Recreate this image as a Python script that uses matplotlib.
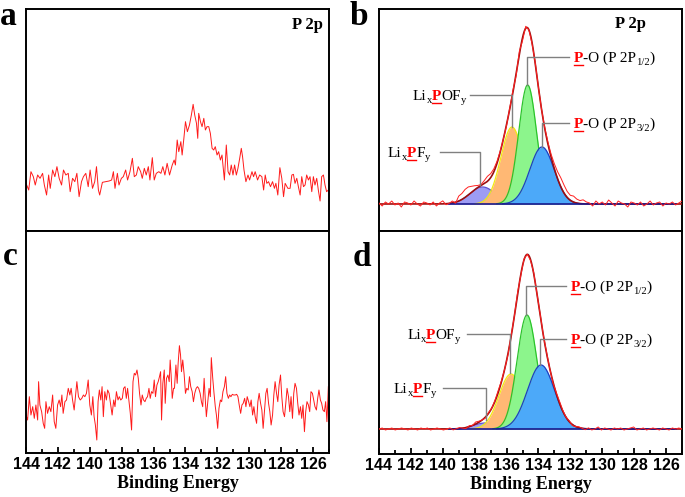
import numpy as np
import matplotlib
matplotlib.use('Agg')
from matplotlib import pyplot as plt
from matplotlib import transforms as mtransforms
from matplotlib.lines import Line2D
from matplotlib.ticker import MultipleLocator

# Raw P 2p spectra (binding energy in eV, intensity in a.u.)
spectrum_a = [
    (144.00, 65), (143.83, 45), (143.69, 100), (143.54, 85), (143.42, 60), (143.27, 90), (143.12, 80), (142.96, 95),
    (142.85, 60), (142.71, 30), (142.58, 90), (142.48, 50), (142.33, 105), (142.19, 85), (142.06, 115), (141.92, 80),
    (141.77, 60), (141.65, 105), (141.50, 90), (141.35, 95), (141.23, 40), (141.08, 80), (140.94, 70), (140.81, 95),
    (140.67, 25), (140.52, 70), (140.40, 85), (140.25, 95), (140.10, 55), (139.98, 105), (139.83, 50), (139.69, 70),
    (139.58, 115), (139.46, 45), (139.38, 30), (139.21, 68), (139.00, 70), (138.79, 72), (138.63, 75), (138.52, 100),
    (138.42, 50), (138.27, 95), (138.17, 60), (138.02, 80), (137.90, 85), (137.75, 105), (137.63, 75), (137.48, 100),
    (137.33, 140), (137.21, 85), (137.08, 90), (136.96, 115), (136.81, 100), (136.71, 80), (136.58, 110), (136.46, 90),
    (136.33, 115), (136.23, 75), (136.08, 142), (135.96, 75), (135.83, 95), (135.67, 100), (135.54, 95), (135.42, 115),
    (135.29, 90), (135.15, 125), (135.00, 90), (134.83, 120), (134.71, 135), (134.63, 120), (134.52, 195), (134.42, 160),
    (134.29, 190), (134.21, 150), (134.10, 200), (134.00, 250), (133.88, 220), (133.75, 240), (133.63, 270), (133.52, 302),
    (133.42, 270), (133.31, 245), (133.23, 200), (133.17, 275), (133.06, 250), (132.96, 235), (132.85, 260), (132.75, 225),
    (132.65, 235), (132.54, 235), (132.44, 215), (132.33, 170), (132.23, 165), (132.13, 175), (132.02, 150), (131.92, 160),
    (131.81, 135), (131.71, 150), (131.56, 75), (131.44, 180), (131.33, 100), (131.23, 90), (131.13, 120), (131.02, 90),
    (130.92, 120), (130.81, 90), (130.71, 110), (130.60, 140), (130.50, 170), (130.42, 145), (130.33, 105), (130.21, 70),
    (130.08, 90), (129.98, 75), (129.83, 100), (129.73, 85), (129.63, 100), (129.48, 75), (129.35, 90), (129.21, 85),
    (129.10, 45), (129.00, 90), (128.90, 65), (128.79, 70), (128.67, 55), (128.54, 70), (128.42, 50), (128.33, 65),
    (128.21, 30), (128.08, 112), (127.96, 80), (127.85, 25), (127.75, 65), (127.58, 50), (127.44, 50), (127.33, 90),
    (127.23, 92), (127.13, 65), (127.02, 80), (126.92, 55), (126.81, 30), (126.71, 85), (126.60, 55), (126.50, 60),
    (126.40, 90), (126.29, 75), (126.19, 85), (126.08, 40), (125.98, 85), (125.88, 60), (125.77, 80), (125.67, 45),
    (125.56, 12), (125.46, 85), (125.35, 90), (125.25, 60), (125.15, 40), (125.04, 45),
]

spectrum_c = [
    (144.00, 90), (143.90, 75), (143.79, 145), (143.69, 90), (143.58, 115), (143.48, 80), (143.38, 120), (143.27, 75),
    (143.21, 190), (143.13, 120), (143.02, 100), (142.92, 65), (142.83, 50), (142.75, 130), (142.65, 95), (142.54, 115),
    (142.44, 100), (142.33, 150), (142.23, 70), (142.13, 50), (142.02, 120), (141.92, 135), (141.83, 115), (141.75, 150),
    (141.67, 95), (141.56, 130), (141.46, 135), (141.35, 170), (141.25, 150), (141.17, 170), (141.08, 135), (140.98, 105),
    (140.88, 155), (140.81, 190), (140.71, 145), (140.60, 135), (140.50, 140), (140.40, 150), (140.31, 145), (140.21, 155),
    (140.10, 195), (140.00, 120), (139.90, 90), (139.81, 145), (139.73, 85), (139.65, 60), (139.56, 15), (139.48, 130),
    (139.40, 165), (139.31, 135), (139.23, 175), (139.15, 85), (139.06, 160), (138.96, 135), (138.88, 165), (138.79, 155),
    (138.69, 120), (138.60, 90), (138.50, 135), (138.42, 115), (138.33, 160), (138.23, 135), (138.15, 145), (138.06, 135),
    (137.96, 140), (137.88, 170), (137.79, 175), (137.71, 140), (137.63, 170), (137.54, 130), (137.46, 95), (137.38, 45),
    (137.29, 190), (137.21, 215), (137.13, 210), (137.04, 225), (136.96, 200), (136.88, 155), (136.79, 120), (136.71, 150),
    (136.63, 135), (136.54, 130), (136.46, 140), (136.38, 145), (136.29, 170), (136.21, 140), (136.13, 160), (136.04, 155),
    (135.96, 195), (135.88, 145), (135.79, 180), (135.71, 190), (135.63, 205), (135.56, 220), (135.50, 75), (135.42, 185),
    (135.33, 225), (135.27, 125), (135.19, 200), (135.10, 210), (135.02, 190), (134.96, 255), (134.90, 210), (134.83, 140),
    (134.75, 170), (134.69, 170), (134.60, 240), (134.52, 185), (134.46, 245), (134.38, 298), (134.31, 270), (134.25, 220),
    (134.17, 255), (134.08, 210), (134.00, 155), (133.92, 170), (133.83, 165), (133.75, 205), (133.67, 175), (133.58, 160),
    (133.50, 130), (133.42, 155), (133.33, 170), (133.25, 175), (133.17, 170), (133.08, 155), (133.00, 130), (132.92, 115),
    (132.83, 200), (132.75, 130), (132.69, 85), (132.60, 130), (132.52, 170), (132.44, 145), (132.38, 262), (132.29, 200),
    (132.21, 155), (132.13, 115), (132.06, 90), (131.98, 50), (131.90, 110), (131.81, 135), (131.73, 130), (131.65, 160),
    (131.56, 175), (131.48, 205), (131.40, 155), (131.31, 140), (131.23, 150), (131.15, 145), (131.06, 152), (130.98, 150),
    (130.88, 150), (130.79, 152), (130.71, 145), (130.63, 120), (130.54, 95), (130.46, 120), (130.38, 125), (130.29, 140),
    (130.21, 115), (130.13, 145), (130.04, 130), (129.96, 115), (129.88, 135), (129.79, 90), (129.71, 115), (129.63, 85),
    (129.54, 65), (129.46, 130), (129.38, 155), (129.29, 125), (129.21, 105), (129.13, 50), (129.04, 105), (128.96, 155),
    (128.88, 170), (128.79, 125), (128.71, 100), (128.63, 60), (128.54, 90), (128.46, 150), (128.38, 190), (128.29, 155),
    (128.21, 130), (128.13, 180), (128.04, 210), (127.96, 145), (127.88, 100), (127.79, 85), (127.71, 125), (127.63, 170),
    (127.54, 145), (127.46, 100), (127.38, 145), (127.29, 80), (127.21, 155), (127.13, 185), (127.04, 170), (126.96, 125),
    (126.88, 90), (126.79, 115), (126.71, 80), (126.63, 120), (126.54, 40), (126.46, 100), (126.38, 130), (126.29, 120),
    (126.21, 100), (126.13, 160), (126.04, 155), (125.96, 135), (125.88, 115), (125.79, 105), (125.71, 140), (125.63, 165),
    (125.54, 135), (125.46, 125), (125.38, 105), (125.29, 100), (125.21, 130), (125.13, 70), (125.04, 175),
]

# Fitted components: LixPFy, LixPOFy, P-O (P 2P1/2), P-O (P 2P3/2)
centers_b = [137.50, 135.66, 134.68, 133.78]
heights_b = [17, 77, 119, 57]
sigmas_b = [0.80, 0.70, 0.56, 0.76]

centers_d = [137.35, 135.72, 134.72, 133.84]
heights_d = [6, 55, 114, 64]
sigmas_d = [0.70, 0.76, 0.62, 0.85]

# measured minus fitted envelope, read on a 0.2 eV grid from 144 to 125 eV
residual_b = [1, -2, 2, 0, 3, -1, 1, -3, 2, 1, -1, 3, 0, -2, 2, 1, -1, 2, -2, 1, 3, -1, 0, 2, -1,
              5, 6, 8, 8, 6, 4, 2, 1, 3, 5, 4, 3, 2, 1,
              0, -1, 1, 2, -2, 3, -3, 2, 0, -1, 1, 0,
              0, 1, 2, 3, 5, 7, 9, 8, 6, 5, 6, 4, 3, 4, 2,
              1, -2, 3, 0, 2, -1, 4, 1, -2, 3, 1, 0, -3, 2, 1, -1, 2, -2, 0, 3, -1, 1, 2, -2, 1, 0, 2, -1, 1, 3]
residual_d = [0, 1, -1, 0, 1, -1, 0, 1, 0, -1, 1, 0, -1, 1, 0, 1, -1, 0, 1, 0, -1, 0, 1, -1, 0,
              1, 0, -1, 1, 0, 2, 1, 0, -1, 1, 0, 1, 2, 1, 0,
              -1, 1, 0, 2, -1, 1, 0, -1, 1, 0, 1, 0,
              1, 0, -1, 1, 2, 1, 0, 1, -1, 0, 1, 0, -1,
              1, -1, 0, 2, -1, 1, 0, -1, 1, 0, 1, -1, 0, 1, 2, -1, 0, 1, -1, 0, 1, 0, -1, 1, 0, -1, 1, 0, 1, 0]

fill_colors = ['#9d9cf4', '#ffb874', '#8cf58c', '#4ca9f9']
edge_colors = ['#5a50d2', '#f2ea10', '#2bc42b', '#1c3ec4']

serif = 'Liberation Serif'


def gauss_sum(be, centers, heights, sigmas):
    return [h * np.exp(-(be - c) ** 2 / (2 * s ** 2)) for c, h, s in zip(centers, heights, sigmas)]


def setup_axes(ax, bottom):
    ax.set_xlim(144, 125)
    ax.set_yticks([])
    for sp in ax.spines.values():
        sp.set_linewidth(1.4)
    if bottom:
        ax.xaxis.set_major_locator(MultipleLocator(2))
        ax.xaxis.set_minor_locator(MultipleLocator(1))
        ax.tick_params(axis='x', which='both', direction='in', width=1.3, pad=3)
        ax.tick_params(axis='x', which='major', length=4.5)
        ax.tick_params(axis='x', which='minor', length=3)
        for lab in ax.get_xticklabels():
            lab.set_fontfamily('Liberation Sans')
            lab.set_fontweight('bold')
            lab.set_fontsize(11.5)
        ax.set_xlabel('Binding Energy', family=serif, weight='bold', fontsize=13, labelpad=2)
    else:
        ax.set_xticks([])


def colored_label(ax, x, y, parts, size=11):
    # pieces: 'n' normal, 'r' red bold underlined, 's' subscript
    fig = ax.figure
    renderer = fig.canvas.get_renderer()
    x0, y0 = ax.transData.transform((x, y))
    shift = 0
    for s, kind in parts:
        dy = -3 if kind == 's' else 0
        tr = mtransforms.offset_copy(ax.transData, fig=fig, x=shift, y=dy, units='dots')
        t = ax.text(x, y, s, transform=tr, fontsize=size * 0.7 if kind == 's' else size, family=serif,
                    color='red' if kind == 'r' else 'black', weight='bold' if kind == 'r' else 'normal',
                    ha='left', va='baseline', zorder=7)
        w = t.get_window_extent(renderer).width
        if kind == 'r':
            ax.add_line(Line2D([x0 + shift, x0 + shift + w], [y0 - 2.5, y0 - 2.5], color='red', lw=1.0,
                               transform=mtransforms.IdentityTransform(), zorder=7))
        shift += w


def draw_fit(ax, centers, heights, sigmas, residual, labels):
    be = np.linspace(144, 125, 1200)
    comps = gauss_sum(be, centers, heights, sigmas)
    for i, (g, fc, ec) in enumerate(zip(comps, fill_colors, edge_colors)):
        ax.fill_between(be, 0, g, color=fc, lw=0, zorder=2 + 0.2 * i)
        m = g > 0.3
        ax.plot(be[m], g[m], color=ec, lw=0.9, zorder=2.1 + 0.2 * i)
    ax.plot(be, np.sum(comps, axis=0), color='#9a0f0f', lw=1.2, zorder=4)
    ax.plot([139.6, 125.4], [0, 0], color='#1a1a8c', lw=1.2, zorder=4)
    be_raw = np.linspace(144, 125, len(residual))
    raw = np.sum(gauss_sum(be_raw, centers, heights, sigmas), axis=0) + np.array(residual)
    ax.plot(be_raw, raw, color='#ff2020', lw=0.7, zorder=5)
    for (tx, ty, parts), (lx0, lx1, ly, ly1) in labels:
        ax.plot([lx0, lx1, lx1], [ly, ly, ly1], color='#808080', lw=1.0, zorder=6)
        colored_label(ax, tx, ty, parts)


lbl_pf = [('Li', 'n'), ('x', 's'), ('P', 'r'), ('F', 'n'), ('y', 's')]
lbl_pof = [('Li', 'n'), ('x', 's'), ('P', 'r'), ('OF', 'n'), ('y', 's')]
lbl_p12 = [('P', 'r'), ('-O (P 2P', 'n'), ('1/2', 's'), (')', 'n')]
lbl_p32 = [('P', 'r'), ('-O (P 2P', 'n'), ('3/2', 's'), (')', 'n')]

fig = plt.figure(figsize=(6.85, 4.97), dpi=100)
ax_a = fig.add_axes([26 / 685, 1 - 231 / 497, 303 / 685, 222 / 497])
ax_c = fig.add_axes([26 / 685, 1 - 453 / 497, 303 / 685, 222 / 497])
ax_b = fig.add_axes([379 / 685, 1 - 231 / 497, 303 / 685, 222 / 497])
ax_d = fig.add_axes([379 / 685, 1 - 454 / 497, 303 / 685, 223 / 497])

# panel a
be_a, int_a = np.array(spectrum_a).T
ax_a.plot(be_a, int_a, color='#ff1a1a', lw=0.7)
setup_axes(ax_a, False)
ax_a.set_ylim(-78, 588)

# panel c
be_c, int_c = np.array(spectrum_c).T
ax_c.plot(be_c, int_c, color='#ff1a1a', lw=0.7)
setup_axes(ax_c, True)
ax_c.set_ylim(-24, 642)

# panel b
setup_axes(ax_b, False)
ax_b.set_ylim(-27, 195)
draw_fit(ax_b, centers_b, heights_b, sigmas_b, residual_b, [
    ((143.44, 47, lbl_pf), (140.18, 137.67, 52, 19)),
    ((141.87, 104, lbl_pof), (138.29, 135.66, 109, 77)),
    ((131.77, 142, lbl_p12), (132.09, 134.72, 147, 119)),
    ((131.77, 76, lbl_p32), (132.09, 133.78, 81, 57)),
])

# panel d
setup_axes(ax_d, True)
ax_d.set_ylim(-25, 198)
draw_fit(ax_d, centers_d, heights_d, sigmas_d, residual_d, [
    ((143.06, 36, lbl_pf), (139.99, 137.29, 41, 9)),
    ((142.24, 90, lbl_pof), (138.48, 135.79, 95, 56)),
    ((131.96, 138, lbl_p12), (132.28, 134.78, 143, 114)),
    ((131.96, 85, lbl_p32), (132.28, 133.91, 90, 64)),
])

# panel titles and letters
fig.text(307 / 685, 1 - 25 / 497, 'P 2p', family=serif, weight='bold', fontsize=12, ha='center', va='center')
fig.text(630 / 685, 1 - 24 / 497, 'P 2p', family=serif, weight='bold', fontsize=12, ha='center', va='center')
for x, y, s in [(8, 25, 'a'), (359, 25, 'b'), (10, 265, 'c'), (362, 266, 'd')]:
    fig.text(x / 685, 1 - y / 497, s, family=serif, weight='bold', fontsize=24, ha='center', va='baseline')

fig.savefig('out.png', dpi=100)
